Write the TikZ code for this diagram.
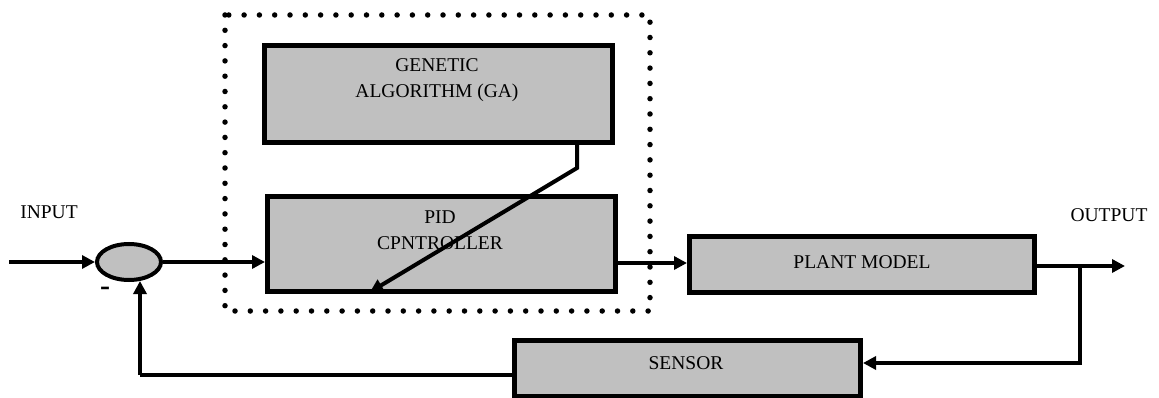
\documentclass[tikz,border=0pt]{standalone}
\usepackage{fontspec}
\setmainfont{Liberation Serif}
\usetikzlibrary{arrows.meta,shapes.geometric,calc}
\definecolor{boxgray}{HTML}{C0C0C0}
\tikzset{
  blk/.style={draw=black, fill=boxgray, line width=5pt, inner sep=0pt},
  conn/.style={line width=4pt, draw=black},
  arr/.style={conn, -{Triangle[length=13pt,width=13pt]}},
  lbl/.style={inner sep=0pt, align=center, font=\fontsize{19.5}{26}\selectfont},
  dotbox/.style={line width=5.5pt, line cap=round, dash pattern=on 0pt off 15.3pt}
}
\begin{document}
\begin{tikzpicture}[x=1pt,y=-1pt]
\useasboundingbox (0,0) rectangle (1159,398);
% dotted enclosure
\draw[dotbox] (225,15) rectangle (650,311);
% blocks
\node[blk, minimum width=348pt, minimum height=97pt] (ga) at (438.5,94) {};
\node[blk, minimum width=348pt, minimum height=95pt] (pid) at (441.5,244) {};
\node[blk, minimum width=345pt, minimum height=56pt] (plant) at (862,264.5) {};
\node[blk, minimum width=346pt, minimum height=56pt] (sensor) at (687.5,368.5) {};
\node[draw=black, fill=boxgray, line width=4pt, ellipse, inner sep=0pt,
      minimum width=64pt, minimum height=36pt] (sum) at (129,262) {};
% labels
\node[lbl] (gatext) at (437,80) {GENETIC\\ALGORITHM (GA)};
\node[lbl] (pidtext) at (440,230) {PID\\CPNTROLLER};
\node[lbl] (planttext) at (862,262) {PLANT MODEL};
\node[lbl] (sensortext) at (686,363) {SENSOR};
\node[lbl] (intext) at (49,212) {INPUT};
\node[lbl] (outtext) at (1109,215) {OUTPUT};
\node[inner sep=0pt, font=\fontsize{30}{30}\selectfont\bfseries] (minus) at (105,291) {-};
% coordinates
\coordinate (in) at (9,262);
\coordinate (out) at (1125,266);
\coordinate (br) at (1080,266);
\coordinate (fb) at (140,375);
\coordinate (gabend) at (577,168);
\coordinate (gatip) at (370,292);
% connectors
\draw[arr] (in) -- (sum.west);
\draw[arr] (sum.east) -- (pid.west |- sum.east);
\draw[arr] (pid.east |- 0,263) -- (plant.west |- 0,263);
\draw[arr] (plant.east |- out) -- (out);
\draw[arr] (br) |- (sensor.east |- 0,363);
\draw[conn] (sensor.west |- fb) -- (fb);
\draw[arr] (fb) -- (140,281);
\draw[arr] (ga.south -| gabend) -- (gabend) -- (gatip);
\end{tikzpicture}
\end{document}
